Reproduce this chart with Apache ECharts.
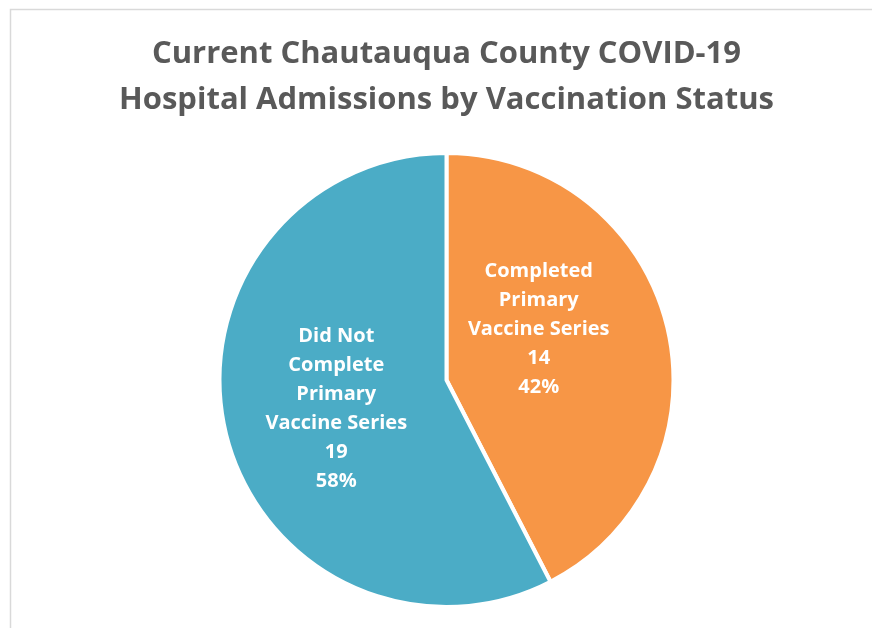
<!DOCTYPE html>
<html>
<head>
<meta charset="utf-8">
<script src="https://cdn.jsdelivr.net/npm/echarts@6/dist/echarts.min.js"></script>
<style>html,body{margin:0;padding:0;background:#fff;}#c{width:872px;height:628px;}</style>
</head>
<body>
<div id="c"></div>
<script>
const titleLines = ['Current Chautauqua County COVID-19', 'Hospital Admissions by Vaccination Status'];
const categories = ['Completed\nPrimary\nVaccine Series', 'Did Not\nComplete\nPrimary\nVaccine Series'];
const values = [14, 19];
const colors = ['#F79646', '#4BACC6'];
const labelOffsets = [[-21, -23], [3, 1]];

const chart = echarts.init(document.getElementById('c'), null, {renderer: 'canvas'});
chart.setOption({
  animation: false,
  backgroundColor: '#fff',
  graphic: [{
    type: 'rect', silent: true,
    shape: {x: 10.5, y: 9.5, width: 1000, height: 800},
    style: {fill: 'none', stroke: '#d9d9d9', lineWidth: 1.5}
  }].concat(titleLines.map((t, i) => ({
    type: 'text', silent: true,
    x: 446.5, y: 54 + i * 46,
    style: {
      text: t, fill: '#595959', align: 'center', verticalAlign: 'middle',
      fontFamily: 'Open Sans', fontWeight: 'bold', fontSize: 31
    }
  }))),
  series: [{
    type: 'pie',
    center: [446.5, 380],
    radius: 227,
    startAngle: 90,
    clockwise: true,
    percentPrecision: 0,
    silent: true,
    itemStyle: {borderColor: '#fff', borderWidth: 4},
    label: {
      show: true, position: 'inside',
      formatter: '{b}\n{c}\n{d}%',
      color: '#fff', fontFamily: 'Open Sans', fontWeight: 'bold',
      fontSize: 20, lineHeight: 29, align: 'center'
    },
    labelLine: {show: false},
    emphasis: {disabled: true},
    data: categories.map((n, i) => ({
      name: n, value: values[i],
      itemStyle: {color: colors[i]},
      label: {offset: labelOffsets[i]}
    }))
  }]
});
</script>
</body>
</html>
